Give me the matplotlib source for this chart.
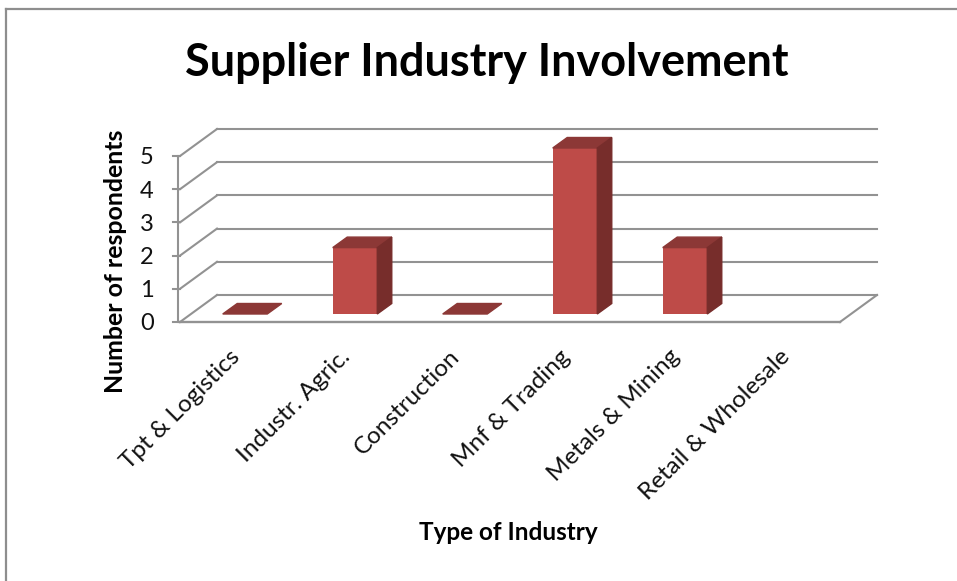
import matplotlib
matplotlib.use("Agg")
import matplotlib.pyplot as plt
from matplotlib.patches import Polygon
from matplotlib.transforms import Affine2D

industries = ["Tpt & Logistics", "Industr. Agric.", "Construction",
              "Mnf & Trading", "Metals & Mining", "Retail & Wholesale"]
respondents = [0, 2, 0, 5, 2, 0]
y_ticks = [0, 1, 2, 3, 4, 5]

W, H = 957, 581
grid = "#929292"
front = "#BE4B48"
top = "#8C3836"
side = "#772D2B"

plt.rcParams['font.family'] = ['Lato', 'DejaVu Sans']

fig = plt.figure(figsize=(W / 100, H / 100), dpi=100)
# plot front plane in pixels: x 180-840, y 322 (value 0) to 156 (value 5)
ax = fig.add_axes([180 / W, 1 - 322 / H, 660 / W, 166 / H])
ax.set_xlim(0, 6)
ax.set_ylim(0, 5)
ax.axis("off")


def shifted(dx, dy):
    return ax.transData + Affine2D().translate(dx, dy)


# back wall and side wall gridlines
back = shifted(37, 27)
for v in y_ticks:
    ax.plot([0, 6], [v, v], color=grid, lw=1.5, transform=back, clip_on=False, zorder=1)
    x0, y0 = ax.transData.transform((0, v))
    fig.add_artist(plt.Line2D([x0 / W, (x0 + 37) / W], [y0 / H, (y0 + 27) / H],
                              color=grid, lw=1.5, zorder=1))
    # tick mark
    fig.add_artist(plt.Line2D([(x0 - 7) / W, x0 / W], [y0 / H, y0 / H], color=grid, lw=1.5))
    ax.annotate(str(v), xy=(0, v), xytext=(-33, -2), textcoords="offset pixels",
                ha="center", va="center", fontsize=17, color="#111111", annotation_clip=False)

# floor and axis
ax.plot([0, 6], [0, 0], color=grid, lw=1.7, clip_on=False, zorder=2)
x1, y1 = ax.transData.transform((6, 0))
fig.add_artist(plt.Line2D([x1 / W, (x1 + 37) / W], [y1 / H, (y1 + 27) / H], color=grid, lw=1.5))
x0, y0 = ax.transData.transform((0, 0))
x5, y5 = ax.transData.transform((0, 5))
fig.add_artist(plt.Line2D([(x0 - 2) / W, (x0 - 2) / W], [y0 / H, y5 / H], color=grid, lw=1.5))

# bars, offset into the floor
offset = shifted(10, 8)
bar_w = 0.405
depth_x, depth_y = 14.5, 10.5
for i, val in enumerate(respondents):
    if i == 5:
        continue
    xl = i + 0.5 - bar_w / 2
    xr = i + 0.5 + bar_w / 2
    ax.bar(i + 0.5, val, width=bar_w, color=front, transform=offset, clip_on=False, zorder=4)
    depth = shifted(10 + depth_x, 8 + depth_y)
    p0 = offset.transform([(xl, val), (xr, val), (xr, 0)])
    p1 = depth.transform([(xl, val), (xr, val), (xr, 0)])
    ax.add_patch(Polygon([p0[0], p0[1], p1[1], p1[0]], closed=True, color=top,
                         transform=None, clip_on=False, zorder=5))
    if val > 0:
        ax.add_patch(Polygon([p0[1], p0[2], p1[2], p1[1]], closed=True, color=side,
                             transform=None, clip_on=False, zorder=5))

# category labels
for i, name in enumerate(industries):
    ax.annotate(name, xy=(i + 0.5, 0), xytext=(-6, -24), textcoords="offset pixels",
                rotation=45, rotation_mode="anchor", ha="right", va="top",
                fontsize=17.5, color="#111111", annotation_clip=False)

fig.text(487 / W, 1 - 63 / H, "Supplier Industry Involvement", ha="center", va="center",
         fontsize=32.4, fontweight="bold", color="black")
fig.text(116 / W, 1 - 261 / H, "Number of respondents", rotation=90, ha="center", va="center",
         fontsize=17.9, fontweight="bold", color="black")
fig.text(508 / W, 1 - 533 / H, "Type of Industry", ha="center", va="center",
         fontsize=17.5, fontweight="bold", color="black")

# chart border, only top and left are in the crop
fig.add_artist(plt.Line2D([6 / W, 6 / W], [0, 1 - 9 / H], color="#8E8E8E", lw=1.6))
fig.add_artist(plt.Line2D([6 / W, 1], [1 - 9 / H, 1 - 9 / H], color="#8E8E8E", lw=1.6))

fig.savefig("out.png", dpi=100)
